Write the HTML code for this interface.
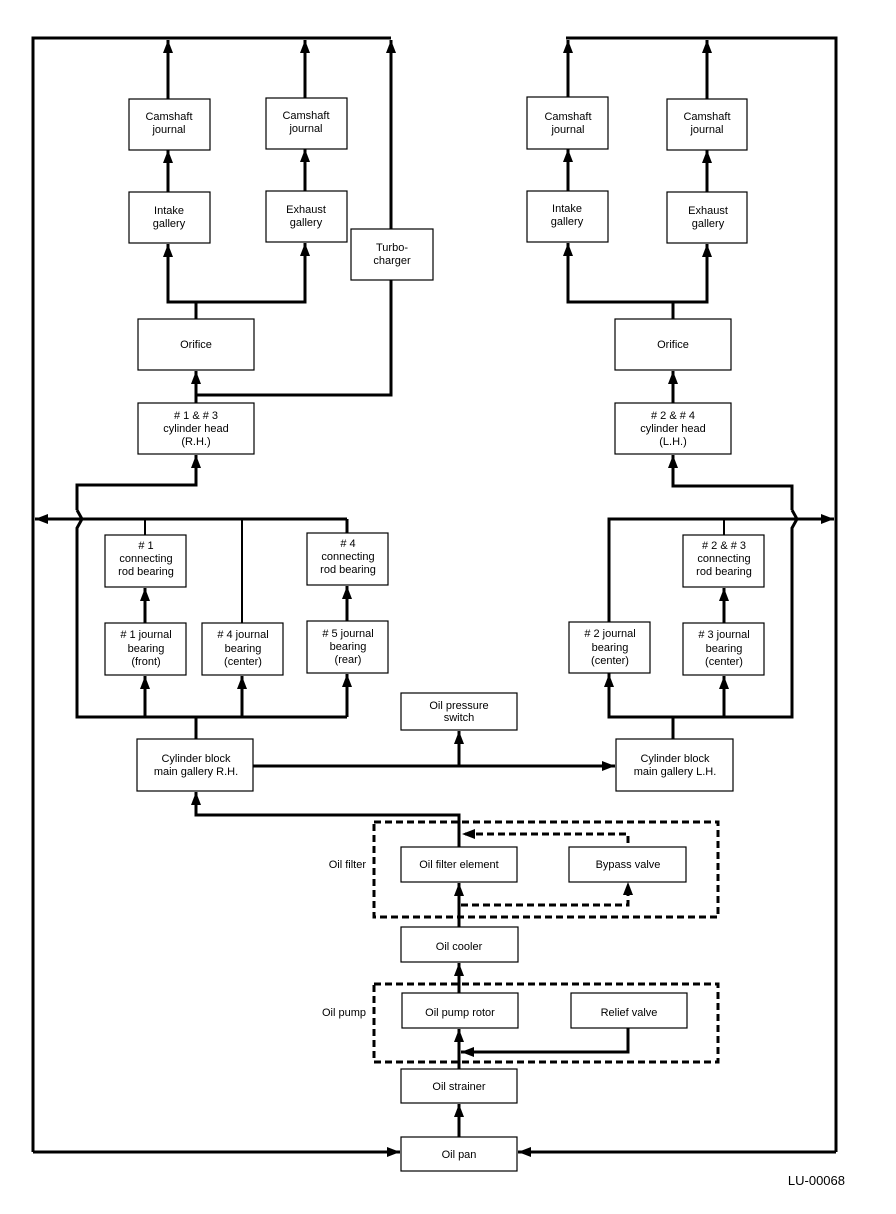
<!DOCTYPE html>
<html><head><meta charset="utf-8">
<style>
html,body{margin:0;padding:0;background:#fff;}
svg{display:block;}
text{font-family:"Liberation Sans",Arial,sans-serif;font-size:11px;fill:#000;text-anchor:middle;}
.b{fill:#fff;stroke:#000;stroke-width:1.2;}
.l{fill:none;stroke:#000;stroke-width:3;}
.t{fill:none;stroke:#000;stroke-width:2;}
.d{fill:none;stroke:#000;stroke-width:3;stroke-dasharray:7,4;}
</style></head>
<body>
<svg width="896" height="1214" viewBox="0 0 896 1214" xmlns="http://www.w3.org/2000/svg">
<defs>
<marker id="a" markerUnits="userSpaceOnUse" markerWidth="14" markerHeight="10" refX="13" refY="5" orient="auto">
<path d="M0,0 L13,5 L0,10 Z" fill="#000"/>
</marker>
</defs>

<path class="l" d="M33,1152 V38 H391"/>
<path class="l" d="M836,1152 V38 H566"/>
<path class="l" d="M33,1152 H400" marker-end="url(#a)"/>
<path class="l" d="M836,1152 H518" marker-end="url(#a)"/>

<path class="l" d="M168,99 V40" marker-end="url(#a)"/>
<path class="l" d="M305,98 V40" marker-end="url(#a)"/>
<path class="l" d="M391,229 V40" marker-end="url(#a)"/>
<path class="l" d="M168,192 V150" marker-end="url(#a)"/>
<path class="l" d="M305,191 V149" marker-end="url(#a)"/>
<path class="l" d="M196,319 V302 H168 V244" marker-end="url(#a)"/>
<path class="l" d="M196,302 H305 V243" marker-end="url(#a)"/>
<path class="l" d="M196,403 V371" marker-end="url(#a)"/>
<path class="l" d="M196,395 H391 V280"/>
<path class="l" d="M77,510 V485 H196 V455" marker-end="url(#a)"/>

<path class="l" d="M77,510 L82,519 L77,528 V717 H347"/>
<path class="l" d="M347,519 H35" marker-end="url(#a)"/>
<path class="t" d="M145,519 V535"/>
<path class="t" d="M242,519 V623"/>
<path class="l" d="M347,519 V533"/>
<path class="l" d="M145,717 V676" marker-end="url(#a)"/>
<path class="l" d="M242,717 V676" marker-end="url(#a)"/>
<path class="l" d="M347,717 V674" marker-end="url(#a)"/>
<path class="l" d="M145,623 V588" marker-end="url(#a)"/>
<path class="l" d="M347,621 V586" marker-end="url(#a)"/>
<path class="l" d="M196,739 V717"/>

<path class="l" d="M568,97 V40" marker-end="url(#a)"/>
<path class="l" d="M707,99 V40" marker-end="url(#a)"/>
<path class="l" d="M568,191 V149" marker-end="url(#a)"/>
<path class="l" d="M707,192 V150" marker-end="url(#a)"/>
<path class="l" d="M673,319 V302 H568 V243" marker-end="url(#a)"/>
<path class="l" d="M673,302 H707 V244" marker-end="url(#a)"/>
<path class="l" d="M673,403 V371" marker-end="url(#a)"/>
<path class="l" d="M792,510 V486 H673 V455" marker-end="url(#a)"/>

<path class="l" d="M792,510 L797,519 L792,528 V717 H609 V519 H834" marker-end="url(#a)"/>
<path class="t" d="M724,519 V535"/>
<path class="l" d="M609,717 V674" marker-end="url(#a)"/>
<path class="l" d="M724,717 V676" marker-end="url(#a)"/>
<path class="l" d="M724,623 V588" marker-end="url(#a)"/>
<path class="l" d="M673,739 V717"/>

<path class="l" d="M253,766 H615" marker-end="url(#a)"/>
<path class="l" d="M459,766 V731" marker-end="url(#a)"/>
<path class="l" d="M459,847 V815 H196 V792" marker-end="url(#a)"/>

<rect class="d" x="374" y="822" width="344" height="95"/>
<path class="d" d="M628,843 V834 H464" />
<path d="M462,834 L475,829 L475,839 Z" fill="#000"/>
<path class="d" d="M461,905 H628 V894"/>
<path d="M628,882 L623,895 L633,895 Z" fill="#000"/>
<path class="l" d="M459,927 V883" marker-end="url(#a)"/>

<rect class="d" x="374" y="984" width="344" height="78"/>
<path class="l" d="M459,993 V963" marker-end="url(#a)"/>
<path class="l" d="M459,1069 V1029" marker-end="url(#a)"/>
<path class="l" d="M628,1028 V1052 H461" marker-end="url(#a)"/>
<path class="l" d="M459,1137 V1104" marker-end="url(#a)"/>

<rect class="b" x="129" y="99" width="81" height="51"/><text x="169" y="120">Camshaft</text><text x="169" y="133">journal</text>
<rect class="b" x="266" y="98" width="81" height="51"/><text x="306" y="119">Camshaft</text><text x="306" y="132">journal</text>
<rect class="b" x="129" y="192" width="81" height="51"/><text x="169" y="214">Intake</text><text x="169" y="227">gallery</text>
<rect class="b" x="266" y="191" width="81" height="51"/><text x="306" y="213">Exhaust</text><text x="306" y="226">gallery</text>
<rect class="b" x="351" y="229" width="82" height="51"/><text x="392" y="251">Turbo-</text><text x="392" y="264">charger</text>
<rect class="b" x="138" y="319" width="116" height="51"/><text x="196" y="348">Orifice</text>
<rect class="b" x="138" y="403" width="116" height="51"/><text x="196" y="419"># 1 &amp; # 3</text><text x="196" y="432">cylinder head</text><text x="196" y="445">(R.H.)</text>

<rect class="b" x="105" y="535" width="81" height="52"/><text x="146" y="549"># 1</text><text x="146" y="562">connecting</text><text x="146" y="575">rod bearing</text>
<rect class="b" x="307" y="533" width="81" height="52"/><text x="348" y="547"># 4</text><text x="348" y="560">connecting</text><text x="348" y="573">rod bearing</text>
<rect class="b" x="105" y="623" width="81" height="52"/><text x="146" y="638"># 1 journal</text><text x="146" y="652">bearing</text><text x="146" y="665">(front)</text>
<rect class="b" x="202" y="623" width="81" height="52"/><text x="243" y="638"># 4 journal</text><text x="243" y="652">bearing</text><text x="243" y="665">(center)</text>
<rect class="b" x="307" y="621" width="81" height="52"/><text x="348" y="637"># 5 journal</text><text x="348" y="650">bearing</text><text x="348" y="663">(rear)</text>
<rect class="b" x="137" y="739" width="116" height="52"/><text x="196" y="762">Cylinder block</text><text x="196" y="775">main gallery R.H.</text>

<rect class="b" x="527" y="97" width="81" height="52"/><text x="568" y="120">Camshaft</text><text x="568" y="133">journal</text>
<rect class="b" x="667" y="99" width="80" height="51"/><text x="707" y="120">Camshaft</text><text x="707" y="133">journal</text>
<rect class="b" x="527" y="191" width="81" height="51"/><text x="567" y="212">Intake</text><text x="567" y="225">gallery</text>
<rect class="b" x="667" y="192" width="80" height="51"/><text x="708" y="214">Exhaust</text><text x="708" y="227">gallery</text>
<rect class="b" x="615" y="319" width="116" height="51"/><text x="673" y="348">Orifice</text>
<rect class="b" x="615" y="403" width="116" height="51"/><text x="673" y="419"># 2 &amp; # 4</text><text x="673" y="432">cylinder head</text><text x="673" y="445">(L.H.)</text>
<rect class="b" x="683" y="535" width="81" height="52"/><text x="724" y="549"># 2 &amp; # 3</text><text x="724" y="562">connecting</text><text x="724" y="575">rod bearing</text>
<rect class="b" x="569" y="622" width="81" height="51"/><text x="610" y="637"># 2 journal</text><text x="610" y="651">bearing</text><text x="610" y="664">(center)</text>
<rect class="b" x="683" y="623" width="81" height="52"/><text x="724" y="638"># 3 journal</text><text x="724" y="652">bearing</text><text x="724" y="665">(center)</text>
<rect class="b" x="616" y="739" width="117" height="52"/><text x="675" y="762">Cylinder block</text><text x="675" y="775">main gallery L.H.</text>

<rect class="b" x="401" y="693" width="116" height="37"/><text x="459" y="709">Oil pressure</text><text x="459" y="721">switch</text>
<rect class="b" x="401" y="847" width="116" height="35"/><text x="459" y="868">Oil filter element</text>
<rect class="b" x="569" y="847" width="117" height="35"/><text x="628" y="868">Bypass valve</text>
<rect class="b" x="401" y="927" width="117" height="35"/><text x="459" y="950">Oil cooler</text>
<rect class="b" x="402" y="993" width="116" height="35"/><text x="460" y="1016">Oil pump rotor</text>
<rect class="b" x="571" y="993" width="116" height="35"/><text x="629" y="1016">Relief valve</text>
<rect class="b" x="401" y="1069" width="116" height="34"/><text x="459" y="1090">Oil strainer</text>
<rect class="b" x="401" y="1137" width="116" height="34"/><text x="459" y="1158">Oil pan</text>

<text x="366" y="868" style="text-anchor:end">Oil filter</text>
<text x="366" y="1016" style="text-anchor:end">Oil pump</text>
<text x="845" y="1185" style="text-anchor:end;font-size:13px">LU-00068</text>
</svg>
</body></html>
